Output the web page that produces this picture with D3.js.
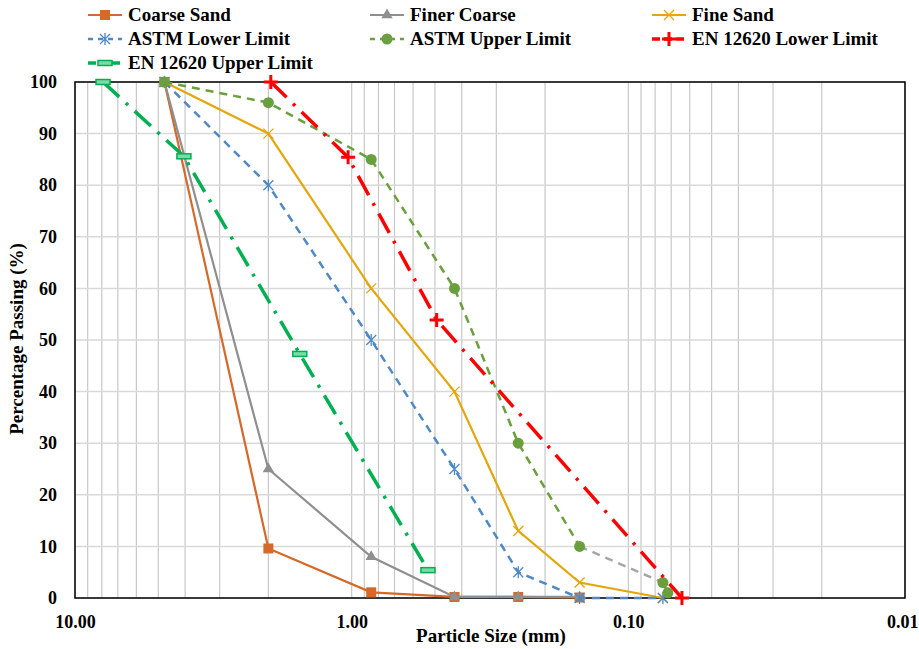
<!DOCTYPE html>
<html>
<head>
<meta charset="utf-8">
<script src="https://cdn.jsdelivr.net/npm/d3@7"></script>
<style>
  body { margin: 0; background: #fff; }
  svg text { font-family: "Liberation Serif", "Times New Roman", serif; font-weight: bold; fill: #000; }
</style>
</head>
<body>
<div id="chart-area"></div>
<script>
// sieve sizes (mm) and percentage passing
var sieves = [4.75, 2.0, 0.85, 0.425, 0.25, 0.15, 0.075];
var coarseSand = [100, 9.6, 1.1, 0.2, 0.2, 0.1];
var finerCoarse = [100, 25, 8, 0.2, 0.2, 0.2];
var fineSand = [100, 90, 60, 40, 13, 3, 0];
var astmLower = [100, 80, 50, 25, 5, 0, 0];
var astmUpperSizes = [4.75, 2.0, 0.85, 0.425, 0.25, 0.15, 0.075, 0.072];
var astmUpper = [100, 96, 85, 60, 30, 10, 3, 1];
var enLowerSizes = [1.96, 1.03, 0.493, 0.064];
var enLower = [100, 85.4, 53.9, 0];
var enUpperSizes = [7.92, 4.04, 1.54, 0.53];
var enUpper = [100, 85.6, 47.3, 5.4];
var xTicks = [10, 1, 0.1, 0.01];
var yTicks = [0, 10, 20, 30, 40, 50, 60, 70, 80, 90, 100];

var width = 919, height = 649;
var svg = d3.select("#chart-area").append("svg")
    .attr("width", width)
    .attr("height", height);

var x = d3.scaleLog().domain([10, 0.01]).range([75, 905]);
var y = d3.scaleLinear().domain([0, 100]).range([598, 82]);

// grid lines
var minorX = [];
[0.01, 0.1, 1].forEach(function(base) {
    for (var k = 1; k <= 9; k++) minorX.push(base * k);
});
minorX.push(10);
svg.append("g").selectAll("line").data(minorX).enter().append("line")
    .attr("x1", d => x(d)).attr("x2", d => x(d))
    .attr("y1", y(0)).attr("y2", y(100))
    .attr("stroke", "#c8c8c8").attr("stroke-width", 1.2);
svg.append("g").selectAll("line").data(yTicks).enter().append("line")
    .attr("x1", x(10)).attr("x2", x(0.01))
    .attr("y1", d => y(d)).attr("y2", d => y(d))
    .attr("stroke", "#d9d9d9").attr("stroke-width", 1.5);

// frame
svg.append("rect")
    .attr("x", x(10)).attr("y", y(100))
    .attr("width", x(0.01) - x(10)).attr("height", y(0) - y(100))
    .attr("fill", "none").attr("stroke", "#000").attr("stroke-width", 1.5);

// axes
var xAxis = d3.axisBottom(x).tickValues(xTicks).tickSize(0).tickPadding(17)
    .tickFormat(d3.format(".2f"));
svg.append("g").attr("transform", "translate(0," + y(0) + ")").call(xAxis)
    .call(g => g.select(".domain").remove())
    .selectAll("text").style("font-size", "18px")
    .attr("text-anchor", d => d === 0.01 ? "end" : "middle")
    .attr("dx", d => d === 0.01 ? 13 : 0);
var yAxis = d3.axisLeft(y).tickValues(yTicks).tickSize(0).tickPadding(18);
svg.append("g").attr("transform", "translate(" + x(10) + ",0)").call(yAxis)
    .call(g => g.select(".domain").remove())
    .selectAll("text").style("font-size", "18px");

svg.append("text").attr("x", 491).attr("y", 642).attr("text-anchor", "middle")
    .style("font-size", "19px").text("Particle Size (mm)");
svg.append("text").attr("transform", "translate(23,339) rotate(-90)")
    .attr("text-anchor", "middle").style("font-size", "19px")
    .text("Percentage Passing (%)");

// marker drawing
function drawMarker(g, type, color) {
    if (type === "square") {
        g.append("rect").attr("x", -5).attr("y", -5).attr("width", 10).attr("height", 10).attr("fill", color);
    } else if (type === "triangle") {
        g.append("path").attr("d", d3.symbol().type(d3.symbolTriangle).size(55)).attr("fill", color);
    } else if (type === "x") {
        g.append("path").attr("d", "M-5,-5L5,5M-5,5L5,-5").attr("stroke", color).attr("stroke-width", 1.3).attr("fill", "none");
    } else if (type === "asterisk") {
        g.append("path").attr("d", "M-5,-5L5,5M-5,5L5,-5M0,-6L0,6").attr("stroke", color).attr("stroke-width", 1.3).attr("fill", "none");
    } else if (type === "circle") {
        g.append("circle").attr("r", 5.5).attr("fill", color);
    } else if (type === "plus") {
        g.append("path").attr("d", "M-7,0L7,0M0,-7L0,7").attr("stroke", color).attr("stroke-width", 3).attr("fill", "none");
    } else if (type === "dash") {
        g.append("rect").attr("x", -7).attr("y", -2.5).attr("width", 14).attr("height", 5)
            .attr("fill", "#7fd8a8").attr("stroke", color).attr("stroke-width", 1.5);
    }
}

var series = [
    { name: "Coarse Sand", sizes: sieves, values: coarseSand, color: "#d4692a", dash: null, width: 2.2, marker: "square" },
    { name: "Finer Coarse", sizes: sieves, values: finerCoarse, color: "#8f8f8f", dash: null, width: 2.2, marker: "triangle" },
    { name: "Fine Sand", sizes: sieves, values: fineSand, color: "#e3a60b", dash: null, width: 2.2, marker: "x" },
    { name: "ASTM Lower Limit", sizes: sieves, values: astmLower, color: "#4e89c6", dash: "8,6", width: 2.5, marker: "asterisk" },
    { name: "ASTM Upper Limit", sizes: astmUpperSizes, values: astmUpper, color: "#6a9f3e", dash: "8,6", width: 2.5, marker: "circle",
      grayFrom: 5, grayTo: 6 },
    { name: "EN 12620 Lower Limit", sizes: enLowerSizes, values: enLower, color: "#ff0000", dash: "22,9,3,9", width: 3.5, marker: "plus" },
    { name: "EN 12620 Upper Limit", sizes: enUpperSizes, values: enUpper, color: "#00b050", dash: "22,9,3,9", width: 3.5, marker: "dash" }
];

var line = d3.line().x(d => x(d[0])).y(d => y(d[1]));

series.forEach(function(s) {
    var pts = s.values.map((v, i) => [s.sizes[i], v]);
    var g = svg.append("g");
    if (s.grayFrom !== undefined) {
        g.append("path").attr("d", line(pts.slice(0, s.grayFrom + 1)))
            .attr("fill", "none").attr("stroke", s.color).attr("stroke-width", s.width).attr("stroke-dasharray", s.dash);
        g.append("path").attr("d", line(pts.slice(s.grayFrom, s.grayTo + 1)))
            .attr("fill", "none").attr("stroke", "#a6a6a6").attr("stroke-width", s.width).attr("stroke-dasharray", s.dash);
        g.append("path").attr("d", line(pts.slice(s.grayTo)))
            .attr("fill", "none").attr("stroke", s.color).attr("stroke-width", s.width).attr("stroke-dasharray", s.dash);
    } else {
        g.append("path").attr("d", line(pts))
            .attr("fill", "none").attr("stroke", s.color).attr("stroke-width", s.width)
            .attr("stroke-dasharray", s.dash);
    }
    pts.forEach(function(p) {
        var m = g.append("g").attr("transform", "translate(" + x(p[0]) + "," + y(p[1]) + ")");
        drawMarker(m, s.marker, s.color);
    });
});

// legend
var legendCols = [88, 370, 652];
var legendRows = [15, 39, 63];
series.forEach(function(s, i) {
    var lx = legendCols[i % 3], ly = legendRows[Math.floor(i / 3)];
    var g = svg.append("g").attr("transform", "translate(" + lx + "," + ly + ")");
    g.append("line").attr("x1", 0).attr("x2", 34).attr("y1", 0).attr("y2", 0)
        .attr("stroke", s.color).attr("stroke-width", s.width)
        .attr("stroke-dasharray", s.dash ? (s.marker === "plus" || s.marker === "dash" ? "8,4" : "5,5") : null);
    var m = g.append("g").attr("transform", "translate(17,0)");
    drawMarker(m, s.marker, s.color);
    g.append("text").attr("x", 40).attr("y", 6).style("font-size", "19px").text(s.name);
});
</script>
</body>
</html>
